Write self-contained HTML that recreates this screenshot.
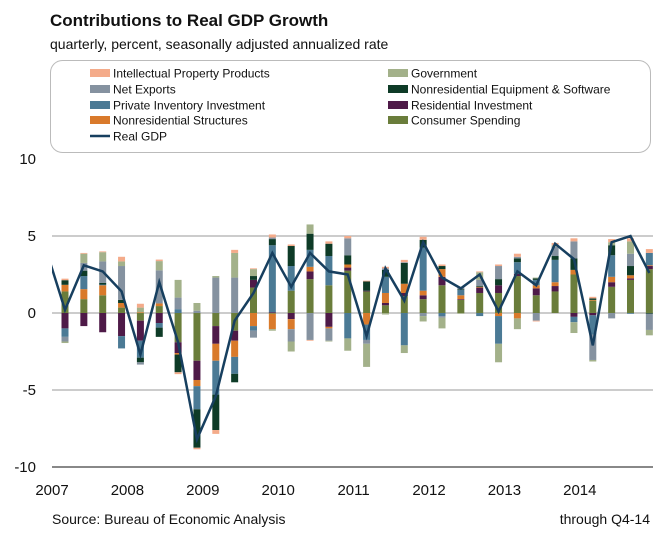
<!DOCTYPE html>
<html><head><meta charset="utf-8"><style>
body{margin:0;background:#fff;font-family:"Liberation Sans",sans-serif;}
#wrap{position:relative;width:670px;height:545px;overflow:hidden;}
.t{position:absolute;white-space:nowrap;color:#111;}
</style></head><body>
<div id="wrap">
<div class="t" style="left:50px;top:11px;font-size:17px;font-weight:bold;">Contributions to Real GDP Growth</div>
<div class="t" style="left:50px;top:36px;font-size:14px;">quarterly, percent, seasonally adjusted annualized rate</div>
<div class="t" style="left:52px;top:511px;font-size:14px;">Source: Bureau of Economic Analysis</div>
<div class="t" style="right:20px;top:511px;font-size:14px;">through Q4-14</div>
<svg id="svg" width="670" height="545" style="position:absolute;left:0;top:0"></svg>
</div>
<script>
const quarters=['07Q1','07Q2','07Q3','07Q4','08Q1','08Q2','08Q3','08Q4','09Q1','09Q2','09Q3','09Q4','10Q1','10Q2','10Q3','10Q4','11Q1','11Q2','11Q3','11Q4','12Q1','12Q2','12Q3','12Q4','13Q1','13Q2','13Q3','13Q4','14Q1','14Q2','14Q3','14Q4'];
const consumer=[1.4,0.9,1.15,0.35,-0.5,0.45,-1.9,-3.1,-0.85,-1.15,1.65,-0.05,1.45,2.2,1.8,2.75,1.4,0.5,1.1,0.9,1.8,0.85,1.3,1.3,2.4,1.15,1.4,2.5,0.8,1.7,2.15,2.85];
const residential=[-1.0,-0.85,-1.25,-1.5,-1.3,-0.65,-0.7,-1.25,-1.15,-0.65,0.5,0.05,-0.4,0.5,-0.9,0.2,0.05,0.15,0.2,0.25,0.55,0.05,0.35,0.5,0.15,0.45,0.35,-0.25,-0.15,0.3,0.1,0.2];
const structures=[0.43,0.65,0.65,0.3,0.05,0.17,-0.1,-0.4,-1.1,-1.05,-0.85,-1.0,-0.65,0.3,-0.1,0.2,-0.75,0.65,0.6,0.3,0.5,0.25,0.05,-0.2,-0.35,0.2,0.25,0.3,0.05,0.35,0.2,0.05];
const inventory=[-0.55,0.85,0.05,-0.8,-1.1,-0.3,0.25,-1.5,-2.2,-1.1,-0.3,4.35,1.6,1.1,1.9,-1.65,-1.0,1.05,-2.1,2.8,-0.2,0.35,-0.2,-1.8,0.75,0.35,1.45,-0.35,-1.25,1.4,-0.05,0.8];
const equipment=[0.3,0.35,0.1,0.2,-0.3,-0.6,-1.15,-2.5,-2.3,-0.55,0.25,0.4,1.3,1.05,0.8,0.6,0.6,0.45,1.35,0.5,0.2,0.05,0.05,0.4,0.25,0.1,0.25,0.75,0.1,0.65,0.6,-0.05];
const netExports=[-0.3,0.5,1.4,2.2,-0.15,2.15,0.75,0.15,2.3,2.3,-0.45,0.1,-0.8,-1.75,-0.8,1.1,-0.25,0.1,0.05,-0.2,-0.1,0.1,0.4,0.85,0.1,-0.5,0.6,1.1,-1.65,-0.35,0.8,-1.05];
const government=[-0.1,0.6,0.6,0.3,0.3,0.6,1.15,0.5,0.1,1.6,0.45,-0.1,-0.65,0.6,-0.05,-0.8,-1.5,-0.1,-0.5,-0.35,-0.7,-0.05,0.5,-1.2,-0.7,0.05,0.1,-0.7,-0.1,0.2,0.8,-0.35];
const ipp=[0.1,0.05,0.05,0.3,0.25,0.1,-0.12,-0.1,-0.25,0.2,0.05,0.2,0.1,-0.05,0.15,0.15,0.05,0.1,0.15,0.2,0.1,0.05,0.05,0.1,0.2,-0.05,0.15,0.2,0.1,0.2,0.2,0.25];
const realGDP=[0.2,3.1,2.7,1.4,-2.7,2.0,-1.9,-8.2,-5.4,-0.5,1.3,3.9,1.7,3.9,2.7,2.5,-1.5,2.9,0.8,4.6,2.3,1.6,2.5,0.1,2.7,1.8,4.5,3.5,-2.1,4.6,5.0,2.6];
const priorGDP=4.1;
const yTicks=[10,5,0,-5,-10];
const xLabels=['2007','2008','2009','2010','2011','2012','2013','2014'];
const seriesNames=['Consumer Spending','Residential Investment','Nonresidential Structures','Private Inventory Investment','Nonresidential Equipment & Software','Net Exports','Government','Intellectual Property Products'];
const seriesData=[consumer,residential,structures,inventory,equipment,netExports,government,ipp];
const colors=['#6a7d3b','#4e1a48','#d97a2b','#4b7a95','#0e3b27','#8592a0','#a3b18a','#f4ab8a'];
const NS='http://www.w3.org/2000/svg';
const svg=document.getElementById('svg');
const X0=52,X1=653;
const y=v=>313-v*15.4;
const x=i=>65+i*18.85;
function mk(t,a){const e=document.createElementNS(NS,t);for(const k in a)e.setAttribute(k,a[k]);svg.appendChild(e);return e;}
// legend box
const lb=mk('rect',{x:50.5,y:60.5,width:600,height:92,rx:12,fill:'#fff',stroke:'#bbb'});


const legendItems=[['Intellectual Property Products',7,90,73],['Government',6,388,73],['Net Exports',5,90,89],['Nonresidential Equipment & Software',4,388,89],['Private Inventory Investment',3,90,105],['Residential Investment',1,388,105],['Nonresidential Structures',2,90,120],['Consumer Spending',0,388,120]];
legendItems.forEach(it=>{
  const r=mk('rect',{x:it[2],y:it[3]-4,width:20,height:8,fill:colors[it[1]]});
  
  
  const t=mk('text',{x:it[2]+23,y:it[3]+4.5,'font-size':12,fill:'#111','font-family':'Liberation Sans, sans-serif'});
  t.textContent=it[0];
  
  
});
const ll=mk('line',{x1:90,x2:110,y1:136,y2:136,stroke:'#173f5f','stroke-width':2.5});


const lt=mk('text',{x:113,y:140.5,'font-size':12,fill:'#111','font-family':'Liberation Sans, sans-serif'});
lt.textContent='Real GDP';


// gridlines & y labels
yTicks.forEach(v=>{
  if(v!==10){const g=mk('line',{x1:X0,x2:X1,y1:y(v),y2:y(v),stroke:v===-10?'#888':'#bbb','stroke-width':v===-10?2:1.5});
  
  }
  const t=mk('text',{x:36,y:y(v)+5,'text-anchor':'end','font-size':15,fill:'#111','font-family':'Liberation Sans, sans-serif'});
  t.textContent=v;
  
  
});
xLabels.forEach((l,k)=>{
  const t=mk('text',{x:x(k*4)-13,y:495,'text-anchor':'middle','font-size':15,fill:'#111','font-family':'Liberation Sans, sans-serif'});
  t.textContent=l;
  
  
});
// bars
quarters.forEach((q,i)=>{
  let pos=0,neg=0;
  seriesData.forEach((s,k)=>{
    const v=s[i];let top,h;
    if(v>=0){top=y(pos+v);h=v*15.4;pos+=v;}else{top=y(neg);h=-v*15.4;neg+=v;}
    const r=mk('rect',{x:x(i)-3.5,y:top,width:7,height:h,fill:colors[k]});
    
    
  });
});
// GDP line
mk('clipPath',{id:'cp'}).appendChild(Object.assign(document.createElementNS(NS,'rect'),{}));
const cr=document.querySelector('#cp rect');cr.setAttribute('x',X0);cr.setAttribute('y',0);cr.setAttribute('width',X1-X0);cr.setAttribute('height',545);
let d='M'+x(-1)+','+y(priorGDP);
realGDP.forEach((v,i)=>{d+=' L'+x(i)+','+y(v);});
const p=mk('path',{d:d,fill:'none',stroke:'#173f5f','stroke-width':2.5,'stroke-linejoin':'miter','clip-path':'url(#cp)'});


</script>
</body></html>
